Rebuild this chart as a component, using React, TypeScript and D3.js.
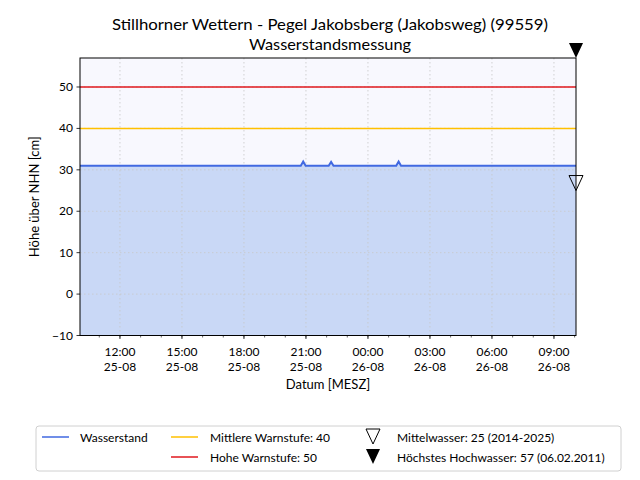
import React from 'react';
import * as d3 from 'd3';

// Wasserstand (cm über NHN), sparse points; flat between them
const levelTimes = [
  '2025-08-25T10:04', '2025-08-25T20:45', '2025-08-25T20:52', '2025-08-25T20:59',
  '2025-08-25T22:06', '2025-08-25T22:13', '2025-08-25T22:20',
  '2025-08-26T01:22', '2025-08-26T01:29', '2025-08-26T01:36', '2025-08-26T10:04',
];
const levelValues = [31.0, 31.0, 32.0, 31.0, 31.0, 31.9, 31.0, 31.0, 32.0, 31.0, 31.0];

const warnMid = 40;
const warnHigh = 50;
const meanWater = 25;
const maxFlood = 57;

const tickTimes = [
  '2025-08-25T12:00', '2025-08-25T15:00', '2025-08-25T18:00', '2025-08-25T21:00',
  '2025-08-26T00:00', '2025-08-26T03:00', '2025-08-26T06:00', '2025-08-26T09:00',
];
const yTicks = [-10, 0, 10, 20, 30, 40, 50];
const yDomain = [-10, 57];

const FONT = 'Lato, "Open Sans", sans-serif';

export default function App() {
  const W = 640, H = 480;
  const m = { left: 80, right: 576, top: 58, bottom: 335.5 };
  const parse = (s: string) => new Date(s);
  const data = levelTimes.map((t, i) => ({ t: parse(t), v: levelValues[i] }));
  const x = d3.scaleTime()
    .domain([data[0].t, data[data.length - 1].t])
    .range([m.left, m.right]);
  const y = d3.scaleLinear().domain(yDomain).range([m.bottom, m.top]);

  const line = d3.line<any>().x(d => x(d.t)).y(d => y(d.v))(data) as string;
  const area = d3.area<any>().x(d => x(d.t)).y0(y(yDomain[0])).y1(d => y(d.v))(data) as string;

  const majors = tickTimes.map(parse);
  const minors = d3.timeHour.range(x.domain()[0], x.domain()[1]);
  const fmtT = d3.timeFormat('%H:%M');
  const fmtD = d3.timeFormat('%d-%m');

  const tri = (cx: number, tipY: number) =>
    `M${cx - 7},${tipY - 15}L${cx + 7},${tipY - 15}L${cx},${tipY}Z`;

  return (
    <svg width={W} height={H} style={{ display: 'block', margin: -8 }} fontFamily={FONT}>
      <rect width={W} height={H} fill="#fff" />
      <rect x={m.left} y={m.top} width={m.right - m.left} height={m.bottom - m.top} fill="#f8f8fe" />
      <path d={area} fill="#c9d8f6" />
      {majors.map((d, i) => (
        <line key={'gx' + i} x1={x(d)} x2={x(d)} y1={m.top} y2={m.bottom}
          stroke="#c8c8c8" strokeWidth={0.8} strokeDasharray="1.5,2.5" />
      ))}
      {yTicks.map(v => (
        <line key={'gy' + v} x1={m.left} x2={m.right} y1={y(v)} y2={y(v)}
          stroke="#c8c8c8" strokeWidth={0.8} strokeDasharray="1.5,2.5" />
      ))}
      <line x1={m.left} x2={m.right} y1={y(warnHigh)} y2={y(warnHigh)} stroke="#e0191e" strokeWidth={1.5} />
      <line x1={m.left} x2={m.right} y1={y(warnMid)} y2={y(warnMid)} stroke="#ffc000" strokeWidth={1.5} />
      <path d={line} fill="none" stroke="#4169e1" strokeWidth={2} />
      <rect x={m.left} y={m.top} width={m.right - m.left} height={m.bottom - m.top}
        fill="none" stroke="#000" strokeWidth={1} />
      {/* axes ticks */}
      {minors.map((d, i) => (
        <line key={'mx' + i} x1={x(d)} x2={x(d)} y1={m.bottom} y2={m.bottom + 2} stroke="#000" strokeWidth={0.6} />
      ))}
      {majors.map((d, i) => (
        <g key={'tx' + i}>
          <line x1={x(d)} x2={x(d)} y1={m.bottom} y2={m.bottom + 3.5} stroke="#000" strokeWidth={0.8} />
          <text x={x(d)} y={356} textAnchor="middle" fontSize={12}>{fmtT(d)}</text>
          <text x={x(d)} y={371} textAnchor="middle" fontSize={12}>{fmtD(d)}</text>
        </g>
      ))}
      {yTicks.map(v => (
        <g key={'ty' + v}>
          <line x1={m.left - 3.5} x2={m.left} y1={y(v)} y2={y(v)} stroke="#000" strokeWidth={0.8} />
          <text x={m.left - 7} y={y(v) + 4} textAnchor="end" fontSize={12}>{v < 0 ? '\u2212' + Math.abs(v) : v}</text>
        </g>
      ))}
      <text x={(m.left + m.right) / 2} y={389} textAnchor="middle" fontSize={13}>Datum [MESZ]</text>
      <text transform={`translate(39,${(m.top + m.bottom) / 2}) rotate(-90)`} textAnchor="middle" fontSize={13}>
        Höhe über NHN [cm]
      </text>
      <text x={330} y={30} textAnchor="middle" fontSize={16} textLength={436} lengthAdjust="spacingAndGlyphs">
        Stillhorner Wettern - Pegel Jakobsberg (Jakobsweg) (99559)
      </text>
      <text x={330} y={50} textAnchor="middle" fontSize={16} textLength={162} lengthAdjust="spacingAndGlyphs">
        Wasserstandsmessung
      </text>
      {/* markers */}
      <path d={tri(m.right, y(meanWater))} fill="none" stroke="#000" strokeWidth={1} />
      <path d={tri(m.right, y(maxFlood))} fill="#000" />
      {/* legend */}
      <rect x={36} y={426} width={585} height={45} rx={3} fill="#fff" stroke="#d0d0d0" />
      <line x1={42} x2={69} y1={437} y2={437} stroke="#4169e1" strokeWidth={1.5} />
      <text x={80} y={441.5} fontSize={12}>Wasserstand</text>
      <line x1={171} x2={198} y1={437} y2={437} stroke="#ffc000" strokeWidth={1.5} />
      <text x={210} y={441.5} fontSize={12}>Mittlere Warnstufe: 40</text>
      <line x1={171} x2={198} y1={457} y2={457} stroke="#e0191e" strokeWidth={1.5} />
      <text x={210} y={461.5} fontSize={12}>Hohe Warnstufe: 50</text>
      <path d={tri(373, 444)} fill="none" stroke="#000" strokeWidth={1} />
      <text x={397} y={441.5} fontSize={12}>Mittelwasser: 25 (2014-2025)</text>
      <path d={tri(373, 464)} fill="#000" />
      <text x={397} y={461.5} fontSize={12}>Höchstes Hochwasser: 57 (06.02.2011)</text>
    </svg>
  );
}
